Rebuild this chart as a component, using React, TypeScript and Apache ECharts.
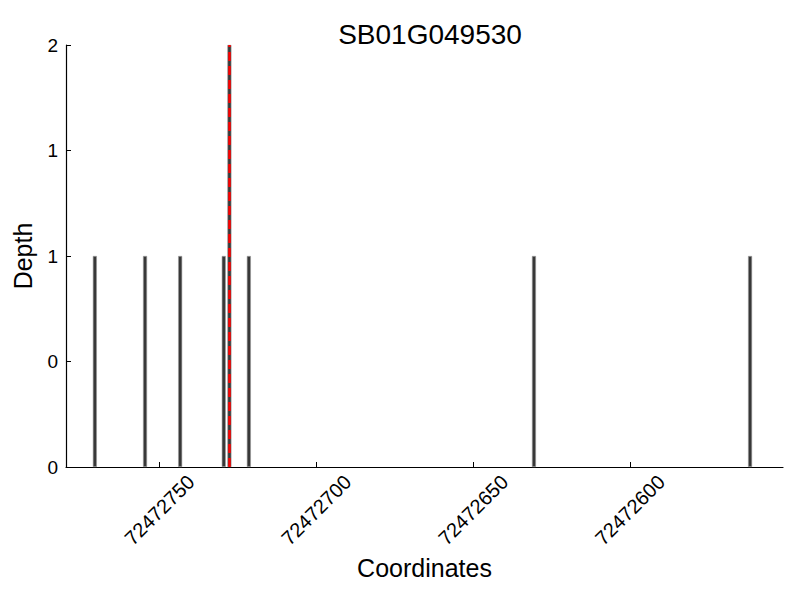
import React, { useEffect, useRef } from "react";
import * as echarts from "echarts";

const titleText = "SB01G049530";
const positions = [72472770.6, 72472754.6, 72472743.4, 72472729.5, 72472727.7, 72472721.5, 72472630.6, 72472561.7];
const depths = [1, 1, 1, 1, 2, 1, 1, 1];
const markerPosition = 72472727.7;
const xTickValues = [72472750, 72472700, 72472650, 72472600];
const yTickValues = [0, 0.5, 1, 1.5, 2];
const yTickLabels = ["0", "0", "1", "1", "2"];
const xMin = 72472551.2;
const xMax = 72472779.8;

export default function App() {
  const ref = useRef<HTMLDivElement>(null);
  useEffect(() => {
    if (!ref.current) return;
    const chart = echarts.init(ref.current, null, { renderer: "svg" });
    const font = "Liberation Sans, Arial, sans-serif";
    chart.setOption({
      animation: false,
      backgroundColor: "#ffffff",
      textStyle: { fontFamily: font },
      title: {
        text: titleText,
        left: 425,
        top: 15,
        textAlign: "center",
        textStyle: { fontSize: 28, fontWeight: "normal", color: "#000", fontFamily: font },
      },
      grid: { left: 66, right: 17, top: 45, bottom: 133, containLabel: false },
      xAxis: {
        type: "value",
        inverse: true,
        min: xMin,
        max: xMax,
        name: "Coordinates",
        nameLocation: "middle",
        nameGap: 80,
        nameTextStyle: { fontSize: 25, color: "#000", fontFamily: font },
        axisLine: { show: true, lineStyle: { color: "#000", width: 1.2 } },
        axisTick: { show: true, inside: true, length: 5, customValues: xTickValues, lineStyle: { color: "#000" } },
        axisLabel: {
          customValues: xTickValues,
          rotate: 45,
          align: "center",
          verticalAlign: "middle",
          margin: 43,
          fontSize: 20,
          color: "#000",
          fontFamily: font,
          formatter: (v: number) => String(Math.round(v)),
        },
        splitLine: { show: false },
      },
      yAxis: {
        type: "value",
        min: 0,
        max: 2,
        interval: 0.5,
        name: "Depth",
        nameLocation: "middle",
        nameGap: 31,
        nameTextStyle: { fontSize: 25, color: "#000", fontFamily: font },
        axisLine: { show: true, lineStyle: { color: "#000", width: 1.2 } },
        axisTick: { show: true, inside: true, length: 5, lineStyle: { color: "#000" } },
        axisLabel: {
          fontSize: 19,
          color: "#000",
          margin: 8,
          fontFamily: font,
          formatter: (v: number) => {
            const i = yTickValues.findIndex((t) => Math.abs(t - v) < 1e-9);
            return i >= 0 ? yTickLabels[i] : "";
          },
        },
        splitLine: { show: false },
      },
      series: [
        {
          type: "bar",
          barWidth: 4,
          data: positions.map((p, i) => [p, depths[i]]),
          itemStyle: { color: "#383838", borderColor: "#9a9a9a", borderWidth: 0.6 },
          markLine: {
            silent: true,
            symbol: "none",
            label: { show: false },
            lineStyle: { color: "#ff0000", type: [9, 5], width: 2.5, opacity: 1 },
            emphasis: { disabled: true },
            data: [{ xAxis: markerPosition }],
            z: 10,
          },
        },
      ],
    });
    return () => chart.dispose();
  }, []);
  return (
    <div
      ref={ref}
      style={{ position: "fixed", left: 0, top: 0, width: 800, height: 600, background: "#fff" }}
    />
  );
}
